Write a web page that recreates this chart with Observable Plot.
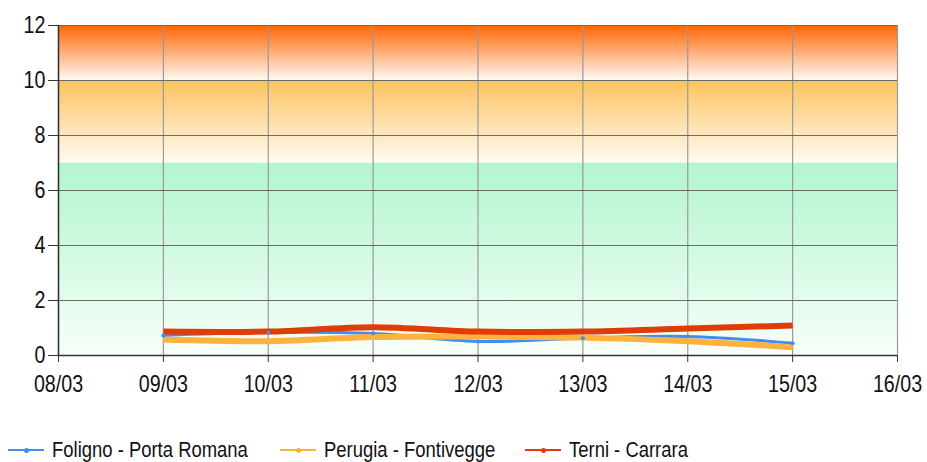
<!DOCTYPE html>
<html>
<head>
<meta charset="utf-8">
<script src="https://cdn.jsdelivr.net/npm/d3@7"></script>
<script src="https://cdn.jsdelivr.net/npm/@observablehq/plot@0.6"></script>
<style>
  html, body { margin: 0; padding: 0; background: #fff; }
  body { width: 927px; height: 462px; overflow: hidden; font-family: "Liberation Sans", Arial, sans-serif; }
  #chart svg { overflow: visible; }
  #legend { position: absolute; left: 0; top: 437px; height: 26px; width: 927px; font-size: 22.5px; color: #111; }
  .item { position: absolute; top: 0; display: flex; align-items: center; height: 26px; }
  .sw { width: 36px; height: 2px; position: relative; margin-right: 8px; }
  .sw i { position: absolute; left: 16px; top: -1.5px; width: 5px; height: 5px; border-radius: 2.5px; }
  .lbl { display: inline-block; transform: scaleX(0.82); transform-origin: left center; white-space: nowrap; }
</style>
</head>
<body>
<div id="chart"></div>
<div id="legend"></div>
<script>
// ---- data ----
const dates = ["09/03", "10/03", "11/03", "12/03", "13/03", "14/03", "15/03"];
const tickLabels = ["08/03", "09/03", "10/03", "11/03", "12/03", "13/03", "14/03", "15/03", "16/03"];
const seriesNames = ["Foligno - Porta Romana", "Perugia - Fontivegge", "Terni - Carrara"];
const foligno = [0.73, 0.84, 0.80, 0.51, 0.63, 0.69, 0.45];
const perugia = [0.58, 0.52, 0.67, 0.69, 0.65, 0.52, 0.30];
const terni   = [0.87, 0.87, 1.03, 0.87, 0.87, 0.98, 1.09];
const seriesColors = ["#3f8ef0", "#fdb13f", "#e03c08"];
const bandLimits = [0, 7, 10, 12];
const yTicks = [0, 2, 4, 6, 8, 10, 12];

const day = s => +s.split("/")[0];
const seriesValues = [foligno, perugia, terni];
const rows = [];
seriesNames.forEach((name, si) => dates.forEach((d, i) => rows.push({series: name, x: day(d), y: seriesValues[si][i]})));
const xTicks = tickLabels.map(day);
const bands = [
  {y1: bandLimits[0], y2: bandLimits[1], fill: "url(#gGreen)"},
  {y1: bandLimits[1], y2: bandLimits[2], fill: "url(#gOrange)"},
  {y1: bandLimits[2], y2: bandLimits[3], fill: "url(#gRed)"}
];
const widths = {"Foligno - Porta Romana": 3, "Perugia - Fontivegge": 6, "Terni - Carrara": 6};

const font = '"Liberation Sans", Arial, sans-serif';

const plot = Plot.plot({
  width: 927,
  height: 400,
  marginTop: 25,
  marginBottom: 45,
  marginLeft: 58,
  marginRight: 30,
  style: {fontFamily: font, fontSize: "24px", color: "#111", background: "transparent"},
  x: {domain: [xTicks[0], xTicks[xTicks.length - 1]]},
  y: {domain: [bandLimits[0], bandLimits[3]]},
  color: {domain: seriesNames, range: seriesColors},
  marks: [
    Plot.rectY(bands, {x1: xTicks[0], x2: xTicks[xTicks.length - 1], y1: "y1", y2: "y2", fill: d => d.fill}),
    Plot.gridX(xTicks, {stroke: "#9a9a9a", strokeOpacity: 1, strokeWidth: 1.2}),
    Plot.gridY(yTicks, {stroke: "#6a6a6a", strokeOpacity: 1, strokeWidth: 1.1}),
    Plot.axisY(yTicks, {tickSize: 10, tickPadding: 3, fontSize: 24, stroke: "#333", label: null}),
    Plot.axisX(xTicks, {tickSize: 7, tickPadding: 12, fontSize: 24, stroke: "#333", label: null,
      tickFormat: d => tickLabels[xTicks.indexOf(d)]}),
    Plot.ruleX([xTicks[0]], {stroke: "#333", strokeWidth: 1.5}),
    Plot.ruleY([bandLimits[0]], {stroke: "#333", strokeWidth: 1.5}),
    ...seriesNames.map(name => Plot.line(rows.filter(r => r.series === name), {
      x: "x", y: "y", stroke: "series", strokeWidth: widths[name], curve: "catmull-rom", strokeLinecap: "butt"
    })),
    Plot.dot(rows.filter(r => r.series === seriesNames[0]), {x: "x", y: "y", fill: "series", r: 2})
  ]
});

// gradient definitions
const ns = "http://www.w3.org/2000/svg";
const defs = document.createElementNS(ns, "defs");
const grads = [
  ["gRed", "#ff6600", "#fff8f4"],
  ["gOrange", "#fcc35e", "#fffaf2"],
  ["gGreen", "#b2f5ce", "#f7fff9"]
];
for (const [id, c1, c2] of grads) {
  const g = document.createElementNS(ns, "linearGradient");
  g.setAttribute("id", id);
  g.setAttribute("x1", "0"); g.setAttribute("y1", "0");
  g.setAttribute("x2", "0"); g.setAttribute("y2", "1");
  [[0, c1], [1, c2]].forEach(([o, c]) => {
    const s = document.createElementNS(ns, "stop");
    s.setAttribute("offset", o);
    s.setAttribute("stop-color", c);
    g.appendChild(s);
  });
  defs.appendChild(g);
}
plot.insertBefore(defs, plot.firstChild);
document.getElementById("chart").appendChild(plot);

// narrow the tick label text (condensed look), keeping anchors/positions
plot.querySelectorAll('g[aria-label$="tick label"] text').forEach(t => {
  const w = t.getComputedTextLength();
  if (w > 0) {
    t.setAttribute("textLength", (w * 0.82).toFixed(2));
    t.setAttribute("lengthAdjust", "spacingAndGlyphs");
  }
});

// legend
const legendX = [8, 280, 525];
const legend = document.getElementById("legend");
seriesNames.forEach((name, i) => {
  const it = document.createElement("div");
  it.className = "item";
  it.style.left = legendX[i] + "px";
  it.innerHTML = `<span class="sw" style="background:${seriesColors[i]}"><i style="background:${seriesColors[i]}"></i></span><span class="lbl">${name}</span>`;
  legend.appendChild(it);
});
</script>
</body>
</html>
